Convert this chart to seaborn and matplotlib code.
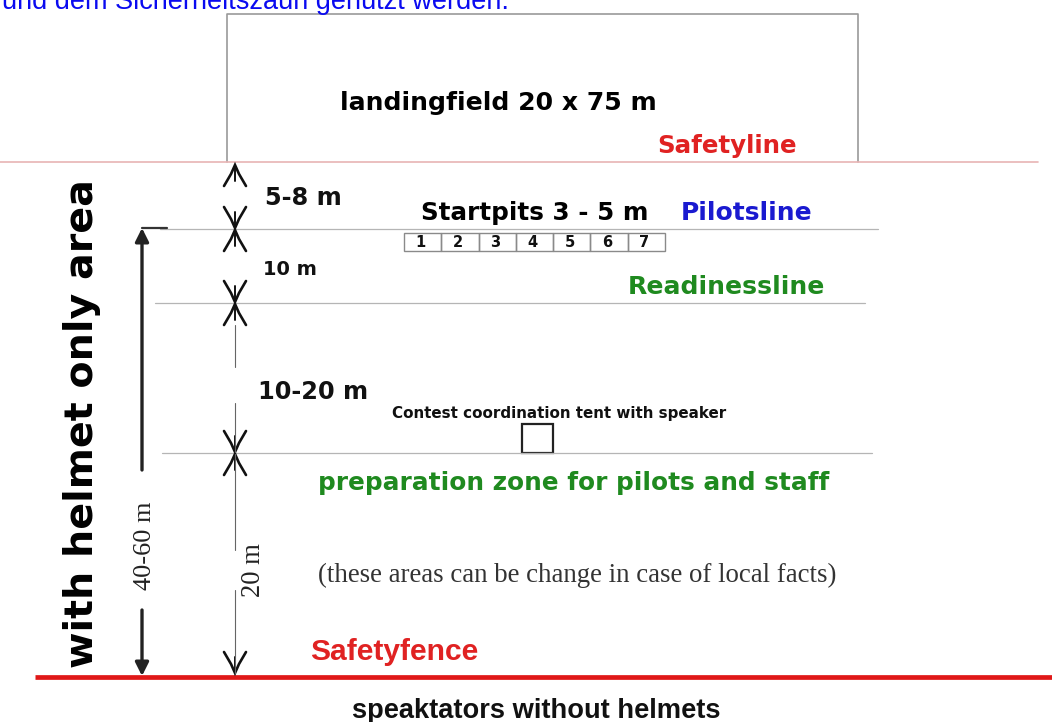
import matplotlib
matplotlib.use("Agg")
import matplotlib.pyplot as plt
import seaborn as sns
from matplotlib.patches import Rectangle

sns.set_theme(style="white")
plt.rcParams['font.family'] = ['DejaVu Sans']

# ---- diagram data ----
header_text = "und dem Sicherheitszaun genützt werden."
field_label = "landingfield 20 x 75 m"
line_names = ["Safetyline", "Pilotsline", "Readinessline", "preparation zone for pilots and staff", "Safetyfence"]
line_colors = ["#e02222", "#1a1ad0", "#1f8a1f", "#1f8a1f", "#e02222"]
line_y = [162, 229, 303, 453, 677]
startpit_numbers = ["1", "2", "3", "4", "5", "6", "7"]
distance_labels = ["5-8 m", "10 m", "10-20 m", "20 m", "40-60 m"]
side_label = "with helmet only area"
tent_label = "Contest coordination tent with speaker"
note_label = "(these areas can be change in case of local facts)"
outside_label = "speaktators without helmets"
startpits_label = "Startpits 3 - 5 m"

W, H = 1052, 722
fig = plt.figure(figsize=(W / 100, H / 100), dpi=100)
ax = fig.add_axes([0, 0, 1, 1])
ax.set_xlim(0, W)
ax.set_ylim(H, 0)
ax.axis("off")
renderer = fig.canvas.get_renderer()

def fit_text(x0, x1, y, s, va="baseline", rotation=0, **kw):
    t = ax.text(x0, y, s, va=va, ha="left", rotation=rotation, fontsize=10, **kw)
    bb = t.get_window_extent(renderer)
    size = bb.width if rotation == 0 else bb.height
    t.set_fontsize(10 * (x1 - x0) / size)
    return t

def fit_vtext(xc, y0, y1, s, **kw):
    t = ax.text(xc, (y0 + y1) / 2, s, va="center", ha="center", rotation=90, fontsize=10, **kw)
    bb = t.get_window_extent(renderer)
    t.set_fontsize(10 * (y1 - y0) / bb.height)
    return t

bold = dict(fontweight="bold", family=["DejaVu Sans"])
narrow = dict(fontweight="bold", family=["Liberation Sans Narrow", "Liberation Sans", "DejaVu Sans"])

# header (cut off at the top edge, as in the reference)
fit_text(2, 510, 9, header_text, color="#0a0af0", family=["Liberation Sans", "DejaVu Sans"])

# landing field box
ax.plot([227, 227, 858, 858], [line_y[0], 14, 14, line_y[0]], color="#9a9a9a", lw=1.2)
fit_text(340, 655, 110, field_label, color="black", **bold)

# safety line (thin pink)
ax.plot([0, 1038], [line_y[0], line_y[0]], color="#e8b4b4", lw=1.2)
fit_text(657, 797, 153, line_names[0], color=line_colors[0], **bold)

# gray zone lines
ax.plot([160, 878], [line_y[1], line_y[1]], color="#b5b5b5", lw=0.9)
ax.plot([155, 865], [line_y[2], line_y[2]], color="#b5b5b5", lw=0.9)
ax.plot([162, 872], [line_y[3], line_y[3]], color="#b5b5b5", lw=0.9)

fit_text(681, 812, 220, line_names[1], color=line_colors[1], **bold)
fit_text(628, 825, 294, line_names[2], color=line_colors[2], **bold)
fit_text(318, 828, 490, line_names[3], color=line_colors[3], **bold)

# startpits
fit_text(421, 648, 220, startpits_label, color="black", **bold)
bx0, bw = 404, (665 - 404) / len(startpit_numbers)
for i, n in enumerate(startpit_numbers):
    ax.add_patch(Rectangle((bx0 + i * bw, 233), bw, 18, fill=False, ec="#8a8a8a", lw=1.0))
    ax.text(bx0 + (i + 0.45) * bw, 242.5, n, ha="center", va="center",
            fontsize=10.5, fontweight="heavy", color="#111")

# distance labels
fit_text(265, 342, 205, distance_labels[0], color="#111", **bold)
fit_text(263, 317, 275, distance_labels[1], color="#111", **bold)
fit_text(258, 368, 399, distance_labels[2], color="#111", **bold)
fit_vtext(253, 543, 597, distance_labels[3], color="#222", family=["Liberation Serif", "DejaVu Serif"])
fit_vtext(145, 502, 590, distance_labels[4], color="#222", family=["Liberation Serif", "DejaVu Serif"])

# tent
fit_text(392, 728, 418, tent_label, color="#111", **bold)
ax.add_patch(Rectangle((522, 424), 31, 29, fill=False, ec="#222", lw=1.6))

# note
fit_text(318, 838, 582, note_label, color="#333", family=["Liberation Serif", "DejaVu Serif"])

# safety fence
ax.plot([35, W], [line_y[4], line_y[4]], color="#e01818", lw=3.4, solid_capstyle="butt")
fit_text(310, 478, 660, line_names[4], color=line_colors[4], **narrow)
fit_text(352, 720, 718, outside_label, color="#111", **narrow)

# side label
fit_vtext(82, 180, 668, side_label, color="black", **bold)

# middle chevron column
cx = 235
def chevron(tip, d):
    ax.plot([cx - 11, cx - 4, cx, cx + 4, cx + 11],
            [tip + 21 * d, tip + 9 * d, tip, tip + 9 * d, tip + 21 * d],
            color="#111", lw=1.9, solid_joinstyle="miter")
    ax.plot([cx, cx], [tip, tip + 16 * d], color="#111", lw=1.4)

chevron(165, 1)
chevron(228, -1)
chevron(230, 1)
chevron(302, -1)
chevron(304, 1)
chevron(452, -1)
chevron(454, 1)
chevron(673, -1)
for (a, b) in [(325, 367), (403, 452), (454, 550), (590, 673)]:
    ax.plot([cx, cx], [a, b], color="#666", lw=0.8)

# left big arrow
lx = 142
ax.plot([lx, 167], [228, 228], color="#333", lw=1.6)
ax.annotate("", xy=(lx, 228), xytext=(lx, 470),
            arrowprops=dict(arrowstyle="-|>", lw=2.4, color="#222", mutation_scale=20, shrinkA=0, shrinkB=0))
ax.annotate("", xy=(lx, 676), xytext=(lx, 610),
            arrowprops=dict(arrowstyle="-|>", lw=2.4, color="#222", mutation_scale=20, shrinkA=0, shrinkB=0))

fig.savefig("out.png", dpi=100)
